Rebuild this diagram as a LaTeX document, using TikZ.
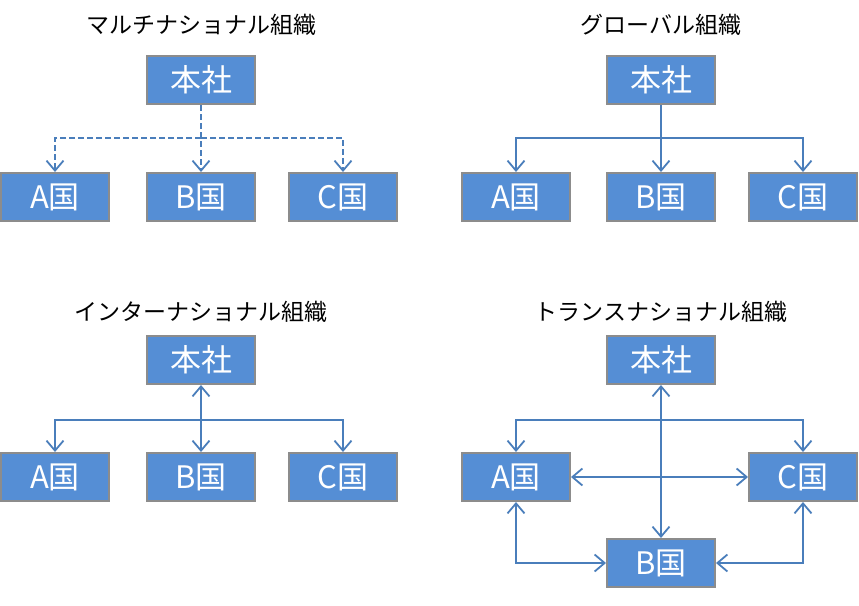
\documentclass[tikz,border=0pt]{standalone}
\usepackage{fontspec}
\newfontfamily\jpfont{Noto Sans CJK JP}
\usetikzlibrary{arrows.meta, positioning}
\definecolor{boxfill}{HTML}{558ED5}
\definecolor{boxline}{HTML}{8C8C8C}
\definecolor{linkcol}{HTML}{4A7EBB}
\tikzset{
  office/.style={draw=boxline, line width=2pt, fill=boxfill, text=white,
    minimum width=108pt, minimum height=48pt, inner sep=0pt,
    font=\jpfont\fontsize{31}{34}\selectfont},
  heading/.style={font=\jpfont\fontsize{23}{26}\selectfont},
  link/.style={draw=linkcol, line width=2pt},
  >={Straight Barb[length=10pt, width=17pt, line width=1.8pt]}
}
\begin{document}
\begin{tikzpicture}[x=1pt, y=-1pt]
  \useasboundingbox (0,0) rectangle (859,605);
  % multinational
  \node[heading] (t1) at (201,25) {マルチナショナル組織};
  \node[office] (hq1) at (201,80) {本社};
  \node[office] (a1) at (55,197) {A国};
  \node[office] (b1) at (201,197) {B国};
  \node[office] (c1) at (343,197) {C国};
  \coordinate (j1) at (201,138);
  \draw[link, dash pattern=on 6pt off 3pt, ->] (hq1) -- (b1);
  \draw[link, dash pattern=on 6pt off 3pt, ->] (j1) -| (a1);
  \draw[link, dash pattern=on 6pt off 3pt, ->] (j1) -| (c1);
  % global
  \node[heading] (t2) at (661,25) {グローバル組織};
  \node[office] (hq2) at (661,80) {本社};
  \node[office] (a2) at (516,197) {A国};
  \node[office] (b2) at (661,197) {B国};
  \node[office] (c2) at (803,197) {C国};
  \coordinate (j2) at (661,138);
  \draw[link, ->] (hq2) -- (b2);
  \draw[link, ->] (j2) -| (a2);
  \draw[link, ->] (j2) -| (c2);
  % international
  \node[heading] (t3) at (201,312) {インターナショナル組織};
  \node[office] (hq3) at (201,360) {本社};
  \node[office] (a3) at (55,477) {A国};
  \node[office] (b3) at (201,477) {B国};
  \node[office] (c3) at (343,477) {C国};
  \coordinate (j3) at (201,420);
  \draw[link, <->] (hq3) -- (b3);
  \draw[link, ->] (j3) -| (a3);
  \draw[link, ->] (j3) -| (c3);
  % transnational
  \node[heading] (t4) at (661,312) {トランスナショナル組織};
  \node[office] (hq4) at (661,360) {本社};
  \node[office] (a4) at (516,477) {A国};
  \node[office] (c4) at (803,477) {C国};
  \node[office] (b4) at (661,563) {B国};
  \coordinate (j4) at (661,420);
  \draw[link, <->] (hq4) -- (b4);
  \draw[link, ->] (j4) -| (a4);
  \draw[link, ->] (j4) -| (c4);
  \draw[link, <->] (a4) -- (c4);
  \draw[link, <->] (a4) |- (b4);
  \draw[link, <->] (c4) |- (b4);
\end{tikzpicture}
\end{document}
